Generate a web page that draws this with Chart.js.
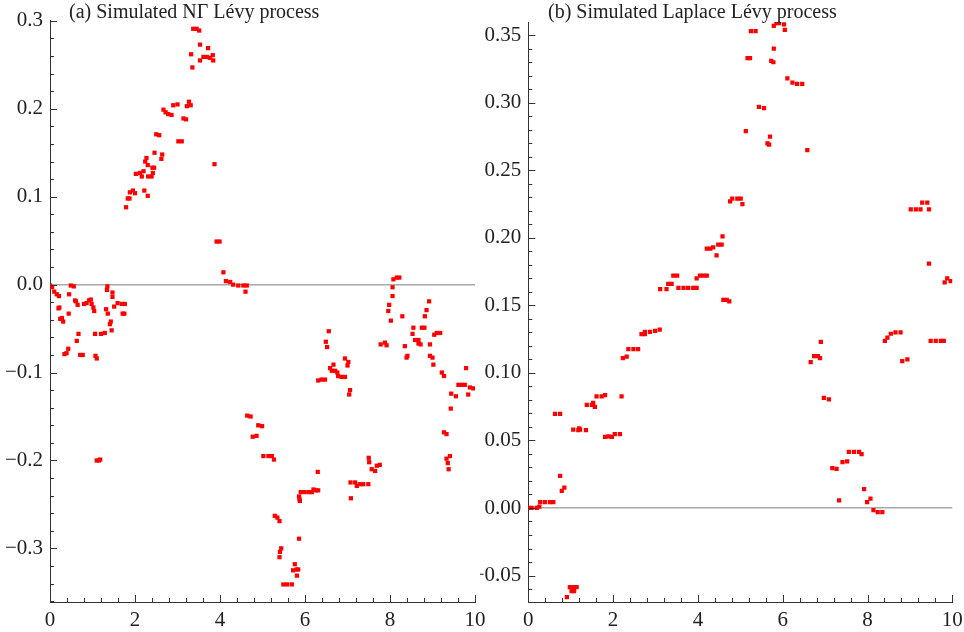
<!DOCTYPE html>
<html>
<head>
<meta charset="utf-8">
<script src="https://cdn.jsdelivr.net/npm/chart.js@4.4.1/dist/chart.umd.min.js"></script>
<style>
  body { margin: 0; background: #fff; width: 964px; height: 632px; overflow: hidden; position: relative; font-family: 'Liberation Serif', serif; }
  .box { position: absolute; top: 0; height: 632px; }
  .title { position: absolute; top: 0; font-size: 20px; color: #222; white-space: nowrap; }
</style>
</head>
<body>
<div class="box" style="left:0;width:490px"><canvas id="ngChart"></canvas></div>
<div class="box" style="left:480px;width:484px"><canvas id="lapChart"></canvas></div>
<div class="title" style="left:69px">(a) Simulated NΓ Lévy process</div>
<div class="title" style="left:548px">(b) Simulated Laplace Lévy process</div>

<script>
// shared x axis
const xTicks = [0, 2, 4, 6, 8, 10];

// (a) NΓ process
const ngTimes = [
  0.00, 0.05, 0.10, 0.16, 0.21, 0.20, 0.22, 0.24, 0.28, 0.31, 0.34, 0.39, 0.43, 0.44, 0.45, 0.49, 0.56,
  0.59, 0.61, 0.63, 0.65, 0.67, 0.71, 0.77, 0.80, 0.86, 0.92, 0.96, 0.98, 1.02, 1.04, 1.06, 1.07, 1.10,
  1.10, 1.15, 1.18, 1.20, 1.29, 1.32, 1.34, 1.35, 1.36, 1.41, 1.43, 1.45, 1.47, 1.47, 1.51, 1.59, 1.69,
  1.71, 1.75, 1.76, 1.79, 1.83, 1.87, 1.88, 1.95, 2.00, 2.02, 2.12, 2.16, 2.20, 2.22, 2.24, 2.27, 2.30,
  2.30, 2.31, 2.39, 2.42, 2.41, 2.45, 2.46, 2.50, 2.57, 2.62, 2.64, 2.67, 2.72, 2.78, 2.86, 2.90, 3.00,
  3.02, 3.10, 3.14, 3.20, 3.22, 3.27, 3.31, 3.32, 3.35, 3.37, 3.45, 3.51, 3.53, 3.53, 3.61, 3.69, 3.72,
  3.76, 3.83, 3.84, 3.87, 3.92, 3.99, 4.08, 4.14, 4.24, 4.31, 4.43, 4.55, 4.60, 4.63, 4.64, 4.72, 4.77,
  4.86, 4.90, 4.99, 5.02, 5.14, 5.22, 5.27, 5.29, 5.35, 5.40, 5.44, 5.41, 5.40, 5.49, 5.58, 5.69, 5.72,
  5.76, 5.80, 5.84, 5.81, 5.86, 5.86, 5.87, 5.88, 5.90, 5.98, 6.08, 6.16, 6.20, 6.25, 6.31, 6.30, 6.31,
  6.39, 6.47, 6.49, 6.52, 6.56, 6.59, 6.63, 6.67, 6.71, 6.76, 6.78, 6.86, 6.94, 6.94, 7.00, 7.02, 7.04,
  7.06, 7.07, 7.08, 7.18, 7.22, 7.29, 7.37, 7.49, 7.50, 7.51, 7.57, 7.65, 7.69, 7.76, 7.78, 7.88, 7.92,
  7.96, 7.98, 8.02, 8.06, 8.06, 8.08, 8.16, 8.22, 8.29, 8.35, 8.39, 8.41, 8.53, 8.55, 8.59, 8.67, 8.67,
  8.72, 8.75, 8.81, 8.82, 8.86, 8.92, 8.94, 8.94, 9.00, 9.02, 9.04, 9.10, 9.18, 9.22, 9.27, 9.27, 9.33,
  9.33, 9.36, 9.38, 9.41, 9.43, 9.44, 9.55, 9.61, 9.69, 9.76, 9.79, 9.84, 9.88, 9.96
];
const ngValues = [
  -0.001, -0.003, -0.008, -0.011, -0.013, -0.027, -0.026, -0.039, -0.038, -0.042, -0.079, -0.078, -0.073, -0.033, -0.011, -0.001, -0.002,
  -0.018, -0.019, -0.064, -0.023, -0.056, -0.080, -0.080, -0.022, -0.021, -0.018, -0.017, -0.022, -0.026, -0.030, -0.056, -0.081, -0.084,
  -0.200, -0.200, -0.199, -0.056, -0.055, -0.028, -0.006, -0.002, -0.033, -0.045, -0.042, -0.052, -0.009, -0.014, -0.025, -0.021, -0.022,
  -0.033, -0.033, -0.022, 0.088, 0.098, 0.098, 0.105, 0.107, 0.104, 0.126, 0.127, 0.123, 0.129, 0.107, 0.140, 0.144, 0.136,
  0.101, 0.123, 0.123, 0.127, 0.133, 0.133, 0.150, 0.171, 0.170, 0.143, 0.148, 0.199, 0.196, 0.194, 0.193, 0.204, 0.205,
  0.163, 0.163, 0.189, 0.188, 0.203, 0.208, 0.204, 0.262, 0.247, 0.291, 0.291, 0.289, 0.273, 0.255, 0.259, 0.259, 0.269,
  0.258, 0.261, 0.255, 0.137, 0.049, 0.049, 0.014, 0.004, 0.003, 0.000, -0.001, -0.001, -0.008, -0.001, -0.149, -0.150, -0.173,
  -0.172, -0.160, -0.161, -0.195, -0.195, -0.195, -0.199, -0.263, -0.265, -0.269, -0.300, -0.304, -0.310, -0.341, -0.341, -0.341, -0.325,
  -0.318, -0.324, -0.324, -0.331, -0.289, -0.241, -0.244, -0.246, -0.236, -0.236, -0.236, -0.236, -0.233, -0.234, -0.234, -0.213, -0.109,
  -0.108, -0.108, -0.065, -0.071, -0.053, -0.095, -0.098, -0.091, -0.098, -0.100, -0.104, -0.105, -0.105, -0.084, -0.092, -0.088, -0.125,
  -0.120, -0.225, -0.243, -0.225, -0.229, -0.227, -0.227, -0.227, -0.197, -0.202, -0.210, -0.212, -0.206, -0.205, -0.068, -0.066, -0.069,
  -0.030, -0.023, -0.041, -0.013, -0.003, 0.006, 0.008, 0.008, -0.036, -0.070, -0.083, -0.081, -0.056, -0.049, -0.063, -0.063, -0.067,
  -0.068, -0.049, -0.049, -0.036, -0.029, -0.019, -0.068, -0.081, -0.083, -0.091, -0.057, -0.055, -0.055, -0.100, -0.104, -0.168, -0.170,
  -0.198, -0.203, -0.210, -0.195, -0.141, -0.124, -0.127, -0.114, -0.114, -0.114, -0.095, -0.125, -0.117, -0.118
];
const ngYTicks = [-0.3, -0.2, -0.1, 0, 0.1, 0.2, 0.3];

// (b) Laplace process
const lapTimes = [
  0.00, 0.08, 0.20, 0.26, 0.28, 0.39, 0.51, 0.59, 0.63, 0.75, 0.75, 0.79, 0.85, 0.91, 0.98, 1.02, 1.06, 1.08,
  1.14, 1.06, 1.18, 1.20, 1.22, 1.36, 1.38, 1.50, 1.53, 1.57, 1.61, 1.73, 1.81, 1.81, 1.89, 1.97, 2.04, 2.16,
  2.20, 2.23, 2.32, 2.36, 2.48, 2.59, 2.67, 2.75, 2.75, 2.87, 2.99, 3.10, 3.11, 3.26, 3.30, 3.38, 3.42, 3.51,
  3.54, 3.66, 3.77, 3.89, 3.97, 3.97, 4.05, 4.13, 4.21, 4.21, 4.29, 4.36, 4.44, 4.48, 4.56, 4.58, 4.60, 4.68,
  4.74, 4.76, 4.81, 4.93, 5.01, 5.05, 5.13, 5.17, 5.23, 5.25, 5.36, 5.44, 5.56, 5.64, 5.68, 5.70, 5.73, 5.78,
  5.79, 5.79, 5.85, 5.91, 6.03, 6.05, 6.11, 6.23, 6.34, 6.46, 6.58, 6.66, 6.74, 6.83, 6.88, 6.90, 6.97, 7.09,
  7.17, 7.27, 7.33, 7.41, 7.52, 7.56, 7.68, 7.80, 7.86, 7.92, 7.99, 8.07, 8.14, 8.24, 8.35, 8.41, 8.47, 8.55,
  8.66, 8.78, 8.82, 8.94, 9.02, 9.14, 9.25, 9.29, 9.41, 9.45, 9.45, 9.49, 9.61, 9.73, 9.80, 9.82, 9.88, 9.96
];
const lapValues = [
  0.000, 0.000, 0.000, 0.001, 0.0044, 0.0044, 0.0044, 0.0044, 0.0696, 0.0696, 0.0237, 0.0126, 0.0151, -0.066, -0.0585, -0.0615, -0.0585, -0.0615,
  -0.0585, 0.058, 0.0576, 0.059, 0.058, 0.0576, 0.0763, 0.0763, 0.0778, 0.0748, 0.0827, 0.0827, 0.0835, 0.0526, 0.0531, 0.0526, 0.0546, 0.0546,
  0.0827, 0.111, 0.112, 0.1176, 0.1176, 0.1176, 0.1287, 0.1287, 0.1304, 0.1304, 0.1311, 0.1321, 0.162, 0.162, 0.166, 0.166, 0.172, 0.172,
  0.163, 0.163, 0.163, 0.163, 0.163, 0.170, 0.172, 0.172, 0.172, 0.192, 0.192, 0.193, 0.187, 0.195, 0.195, 0.201, 0.154, 0.154,
  0.153, 0.227, 0.229, 0.229, 0.229, 0.225, 0.279, 0.333, 0.333, 0.353, 0.353, 0.297, 0.296, 0.270, 0.269, 0.275, 0.331, 0.330,
  0.340, 0.357, 0.359, 0.359, 0.358, 0.354, 0.318, 0.315, 0.314, 0.314, 0.265, 0.108, 0.1124, 0.1124, 0.111, 0.123, 0.0815, 0.0805,
  0.0296, 0.0289, 0.0057, 0.034, 0.0346, 0.0415, 0.0415, 0.0415, 0.0398, 0.0139, 0.0044, 0.007, -0.0015, -0.003, -0.003, 0.1237, 0.1262, 0.129,
  0.130, 0.130, 0.1087, 0.110, 0.221, 0.221, 0.221, 0.226, 0.226, 0.221, 0.181, 0.1237, 0.1237, 0.1237, 0.1237, 0.167, 0.170, 0.168
];
const lapYTicks = [-0.05, 0, 0.05, 0.10, 0.15, 0.20, 0.25, 0.30, 0.35];

const tickFont = { family: 'Liberation Serif', size: 21 };

// format with a real minus sign, as in the original figure
function fmt(v, digits) {
  if (Math.abs(v) < 1e-9) v = 0;
  return (v < 0 ? '\u2212' : '') + Math.abs(v).toFixed(digits);
}

// ticks drawn on the inside of the axes, major + minor
const innerTicks = {
  id: 'innerTicks',
  afterDatasetsDraw(chart, args, opts) {
    const ctx = chart.ctx;
    const xs = chart.scales.x, ys = chart.scales.y, a = chart.chartArea;
    ctx.save();
    ctx.strokeStyle = '#333';
    ctx.lineWidth = 1;
    ctx.beginPath();
    for (let i = 0; i * opts.xMinor <= xs.max + 1e-9; i++) {
      const v = i * opts.xMinor;
      const px = Math.round(xs.getPixelForValue(v)) + 0.5;
      const major = xTicks.some(t => Math.abs(t - v) < 1e-6);
      ctx.moveTo(px, a.bottom);
      ctx.lineTo(px, a.bottom - (major ? 7 : 4));
    }
    const start = Math.ceil(ys.min / opts.yMinor - 1e-6);
    for (let i = start; i * opts.yMinor <= ys.max + 1e-9; i++) {
      const v = i * opts.yMinor;
      const py = Math.round(ys.getPixelForValue(v)) + 0.5;
      const major = opts.yTicks.some(t => Math.abs(t - v) < 1e-6);
      ctx.moveTo(a.left, py);
      ctx.lineTo(a.left + (major ? 7 : 4), py);
    }
    ctx.stroke();
    ctx.restore();
  }
};

function makeChart(id, times, values, cfg) {
  const points = times.map((t, i) => ({ x: t, y: values[i] }));
  return new Chart(document.getElementById(id), {
    type: 'scatter',
    data: {
      datasets: [{
        data: points,
        pointStyle: 'rect',
        pointRadius: 3,
        pointHoverRadius: 3,
        pointBackgroundColor: '#ff0000',
        pointBorderWidth: 0
      }]
    },
    options: {
      responsive: true,
      maintainAspectRatio: false,
      animation: false,
      events: [],
      layout: { padding: { left: 0, right: cfg.padRight, top: cfg.padTop, bottom: 0 } },
      plugins: {
        legend: { display: false },
        tooltip: { enabled: false },
        innerTicks: { xMinor: 0.4, yMinor: cfg.yMinor, yTicks: cfg.yTicks }
      },
      scales: {
        x: {
          type: 'linear',
          min: 0,
          max: 10,
          afterBuildTicks: s => { s.ticks = xTicks.map(v => ({ value: v })); },
          afterFit: s => { s.height = 30; s.paddingLeft = 0; s.paddingRight = 0; },
          grid: { display: false, drawTicks: false },
          border: { display: true, color: '#333', width: 1 },
          ticks: { color: '#222', font: tickFont, padding: 6, maxRotation: 0, callback: v => String(v) }
        },
        y: {
          type: 'linear',
          min: cfg.yMin,
          max: cfg.yMax,
          afterBuildTicks: s => { s.ticks = cfg.yTicks.map(v => ({ value: v })); },
          afterFit: s => { s.width = cfg.axisWidth; s.paddingTop = 0; s.paddingBottom = 0; },
          grid: {
            drawTicks: false,
            lineWidth: 1.5,
            color: c => (c.tick && Math.abs(c.tick.value) < 1e-9) ? '#a8a8a8' : 'rgba(0,0,0,0)'
          },
          border: { display: true, color: '#333', width: 1 },
          ticks: { color: '#222', font: tickFont, padding: 7, callback: v => fmt(v, cfg.digits) }
        }
      }
    },
    plugins: [innerTicks]
  });
}

makeChart('ngChart', ngTimes, ngValues, {
  yMin: -0.361, yMax: 0.301, yTicks: ngYTicks, yMinor: 0.02, digits: 1,
  axisWidth: 50, padRight: 15, padTop: 20
});

makeChart('lapChart', lapTimes, lapValues, {
  yMin: -0.0696, yMax: 0.3598, yTicks: lapYTicks, yMinor: 0.01, digits: 2,
  axisWidth: 48.3, padRight: 11.7, padTop: 22
});
</script>
</body>
</html>
